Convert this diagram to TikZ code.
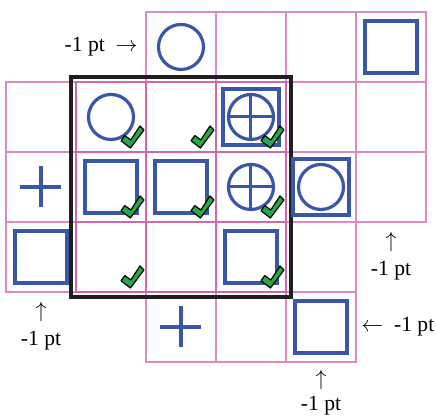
\documentclass[tikz,border=0pt]{standalone}
\usepackage{fontspec}
\setmainfont{Liberation Serif}
\usepackage{tikz}
\usetikzlibrary{positioning, fit}
\usepackage{xcolor}

\definecolor{gridpink}{RGB}{224,136,192}
\definecolor{innerpink}{RGB}{210,104,170}
\definecolor{symblue}{RGB}{58,86,166}
\definecolor{tickgreen}{RGB}{38,170,72}

\tikzset{
    okmark/.pic = {
        \filldraw[fill=tickgreen, draw=black, line width=0.6pt, line join=round]
            (-11.5pt,3.6pt) -- (-9.6pt,6.2pt) -- (-6.6pt,4pt) -- (-2pt,11pt)
            -- (0pt,9pt) -- (-6.8pt,0pt) -- cycle;
    }
}

\begin{document}
\begin{tikzpicture}[
    x=35pt, y=35pt,
    cellbox/.style = {rectangle, draw=gridpink, line width=0.8pt, minimum size=35pt, inner sep=0pt, outer sep=0pt},
    innerbox/.style = {cellbox, draw=innerpink, line width=1.3pt},
    circsym/.style = {circle, draw=symblue, line width=1.6pt, minimum size=22.5pt, inner sep=0pt, outer sep=0pt},
    sqsym/.style = {rectangle, draw=symblue, line width=1.6pt, minimum size=26pt, inner sep=0pt, outer sep=0pt},
    boxsym/.style = {sqsym, minimum size=28pt},
    plussym/.style = {rectangle, minimum size=20.5pt, inner sep=0pt, outer sep=0pt},
    plusline/.style = {draw=symblue, line width=2pt},
    crossline/.style = {draw=symblue, line width=1.5pt},
    note/.style = {font=\fontsize{10.8}{13}\selectfont, inner sep=1pt, align=center}
]
\useasboundingbox (-0.0857,-0.786) rectangle (6.143,5.171);

% Outer cells
\node (cell_r0c2) [cellbox] at (2.5, 4.5) {};
\node (cell_r0c3) [cellbox] at (3.5, 4.5) {};
\node (cell_r0c4) [cellbox] at (4.5, 4.5) {};
\node (cell_r0c5) [cellbox] at (5.5, 4.5) {};
\node (cell_r1c0) [cellbox] at (0.5, 3.5) {};
\node (cell_r1c4) [cellbox] at (4.5, 3.5) {};
\node (cell_r1c5) [cellbox] at (5.5, 3.5) {};
\node (cell_r2c0) [cellbox] at (0.5, 2.5) {};
\node (cell_r2c4) [cellbox] at (4.5, 2.5) {};
\node (cell_r2c5) [cellbox] at (5.5, 2.5) {};
\node (cell_r3c0) [cellbox] at (0.5, 1.5) {};
\node (cell_r3c4) [cellbox] at (4.5, 1.5) {};
\node (cell_r4c2) [cellbox] at (2.5, 0.5) {};
\node (cell_r4c3) [cellbox] at (3.5, 0.5) {};
\node (cell_r4c4) [cellbox] at (4.5, 0.5) {};

% Inner cells
\node (cell_r1c1) [innerbox] at (1.5, 3.5) {};
\node (cell_r1c2) [innerbox] at (2.5, 3.5) {};
\node (cell_r1c3) [innerbox] at (3.5, 3.5) {};
\node (cell_r2c1) [innerbox] at (1.5, 2.5) {};
\node (cell_r2c2) [innerbox] at (2.5, 2.5) {};
\node (cell_r2c3) [innerbox] at (3.5, 2.5) {};
\node (cell_r3c1) [innerbox] at (1.5, 1.5) {};
\node (cell_r3c2) [innerbox] at (2.5, 1.5) {};
\node (cell_r3c3) [innerbox] at (3.5, 1.5) {};

% Frame round the inner cells
\node (frame) [draw=black!88, line width=2pt, inner sep=2.3pt, fit=(cell_r1c1) (cell_r3c3)] {};

% Circles
\node (sym_r0c2) [circsym] at (cell_r0c2) {};
\node (sym_r1c1) [circsym] at (cell_r1c1) {};

% Squares
\node (sym_r0c5) [sqsym] at (cell_r0c5) {};
\node (sym_r2c1) [sqsym] at (cell_r2c1) {};
\node (sym_r2c2) [sqsym] at (cell_r2c2) {};
\node (sym_r3c0) [sqsym] at (cell_r3c0) {};
\node (sym_r3c3) [sqsym] at (cell_r3c3) {};
\node (sym_r4c4) [sqsym] at (cell_r4c4) {};

% Circle in a square
\node (box_r2c4) [boxsym] at (cell_r2c4) {};
\node (sym_r2c4) [circsym] at (cell_r2c4) {};

% Crossed circles
\node (box_r1c3) [boxsym] at (cell_r1c3) {};
\node (sym_r1c3) [circsym] at (cell_r1c3) {};
\draw [crossline] (sym_r1c3.north) -- (sym_r1c3.south);
\draw [crossline] (sym_r1c3.west) -- (sym_r1c3.east);
\node (sym_r2c3) [circsym] at (cell_r2c3) {};
\draw [crossline] (sym_r2c3.north) -- (sym_r2c3.south);
\draw [crossline] (sym_r2c3.west) -- (sym_r2c3.east);

% Plus signs
\node (sym_r2c0) [plussym] at (cell_r2c0) {};
\draw [plusline] (sym_r2c0.north) -- (sym_r2c0.south);
\draw [plusline] (sym_r2c0.west) -- (sym_r2c0.east);
\node (sym_r4c2) [plussym] at (cell_r4c2) {};
\draw [plusline] (sym_r4c2.north) -- (sym_r4c2.south);
\draw [plusline] (sym_r4c2.west) -- (sym_r4c2.east);

% Check marks
\pic at ([shift={(-1pt,2pt)}]cell_r1c1.south east) {okmark};
\pic at ([shift={(-1pt,2pt)}]cell_r1c2.south east) {okmark};
\pic at ([shift={(-1pt,2pt)}]cell_r1c3.south east) {okmark};
\pic at ([shift={(-1pt,2pt)}]cell_r2c1.south east) {okmark};
\pic at ([shift={(-1pt,2pt)}]cell_r2c2.south east) {okmark};
\pic at ([shift={(-1pt,2pt)}]cell_r2c3.south east) {okmark};
\pic at ([shift={(-1pt,2pt)}]cell_r3c1.south east) {okmark};
\pic at ([shift={(-1pt,2pt)}]cell_r3c3.south east) {okmark};

% Labels
\node (lbl_top) [note, left=3pt of cell_r0c2] {-1 pt\hspace{0.5em}$\rightarrow$};
\node (lbl_left) [note, below=4pt of cell_r3c0] {$\uparrow$\\[1pt]-1 pt};
\node (lbl_right) [note, below=4pt of cell_r2c5] {$\uparrow$\\[1pt]-1 pt};
\node (lbl_side) [note, right=1.5pt of cell_r4c4] {$\leftarrow$\hspace{0.5em}-1 pt};
\node (lbl_bottom) [note, below=3pt of cell_r4c4] {$\uparrow$\\[-0.5pt]-1 pt};

\end{tikzpicture}
\end{document}
